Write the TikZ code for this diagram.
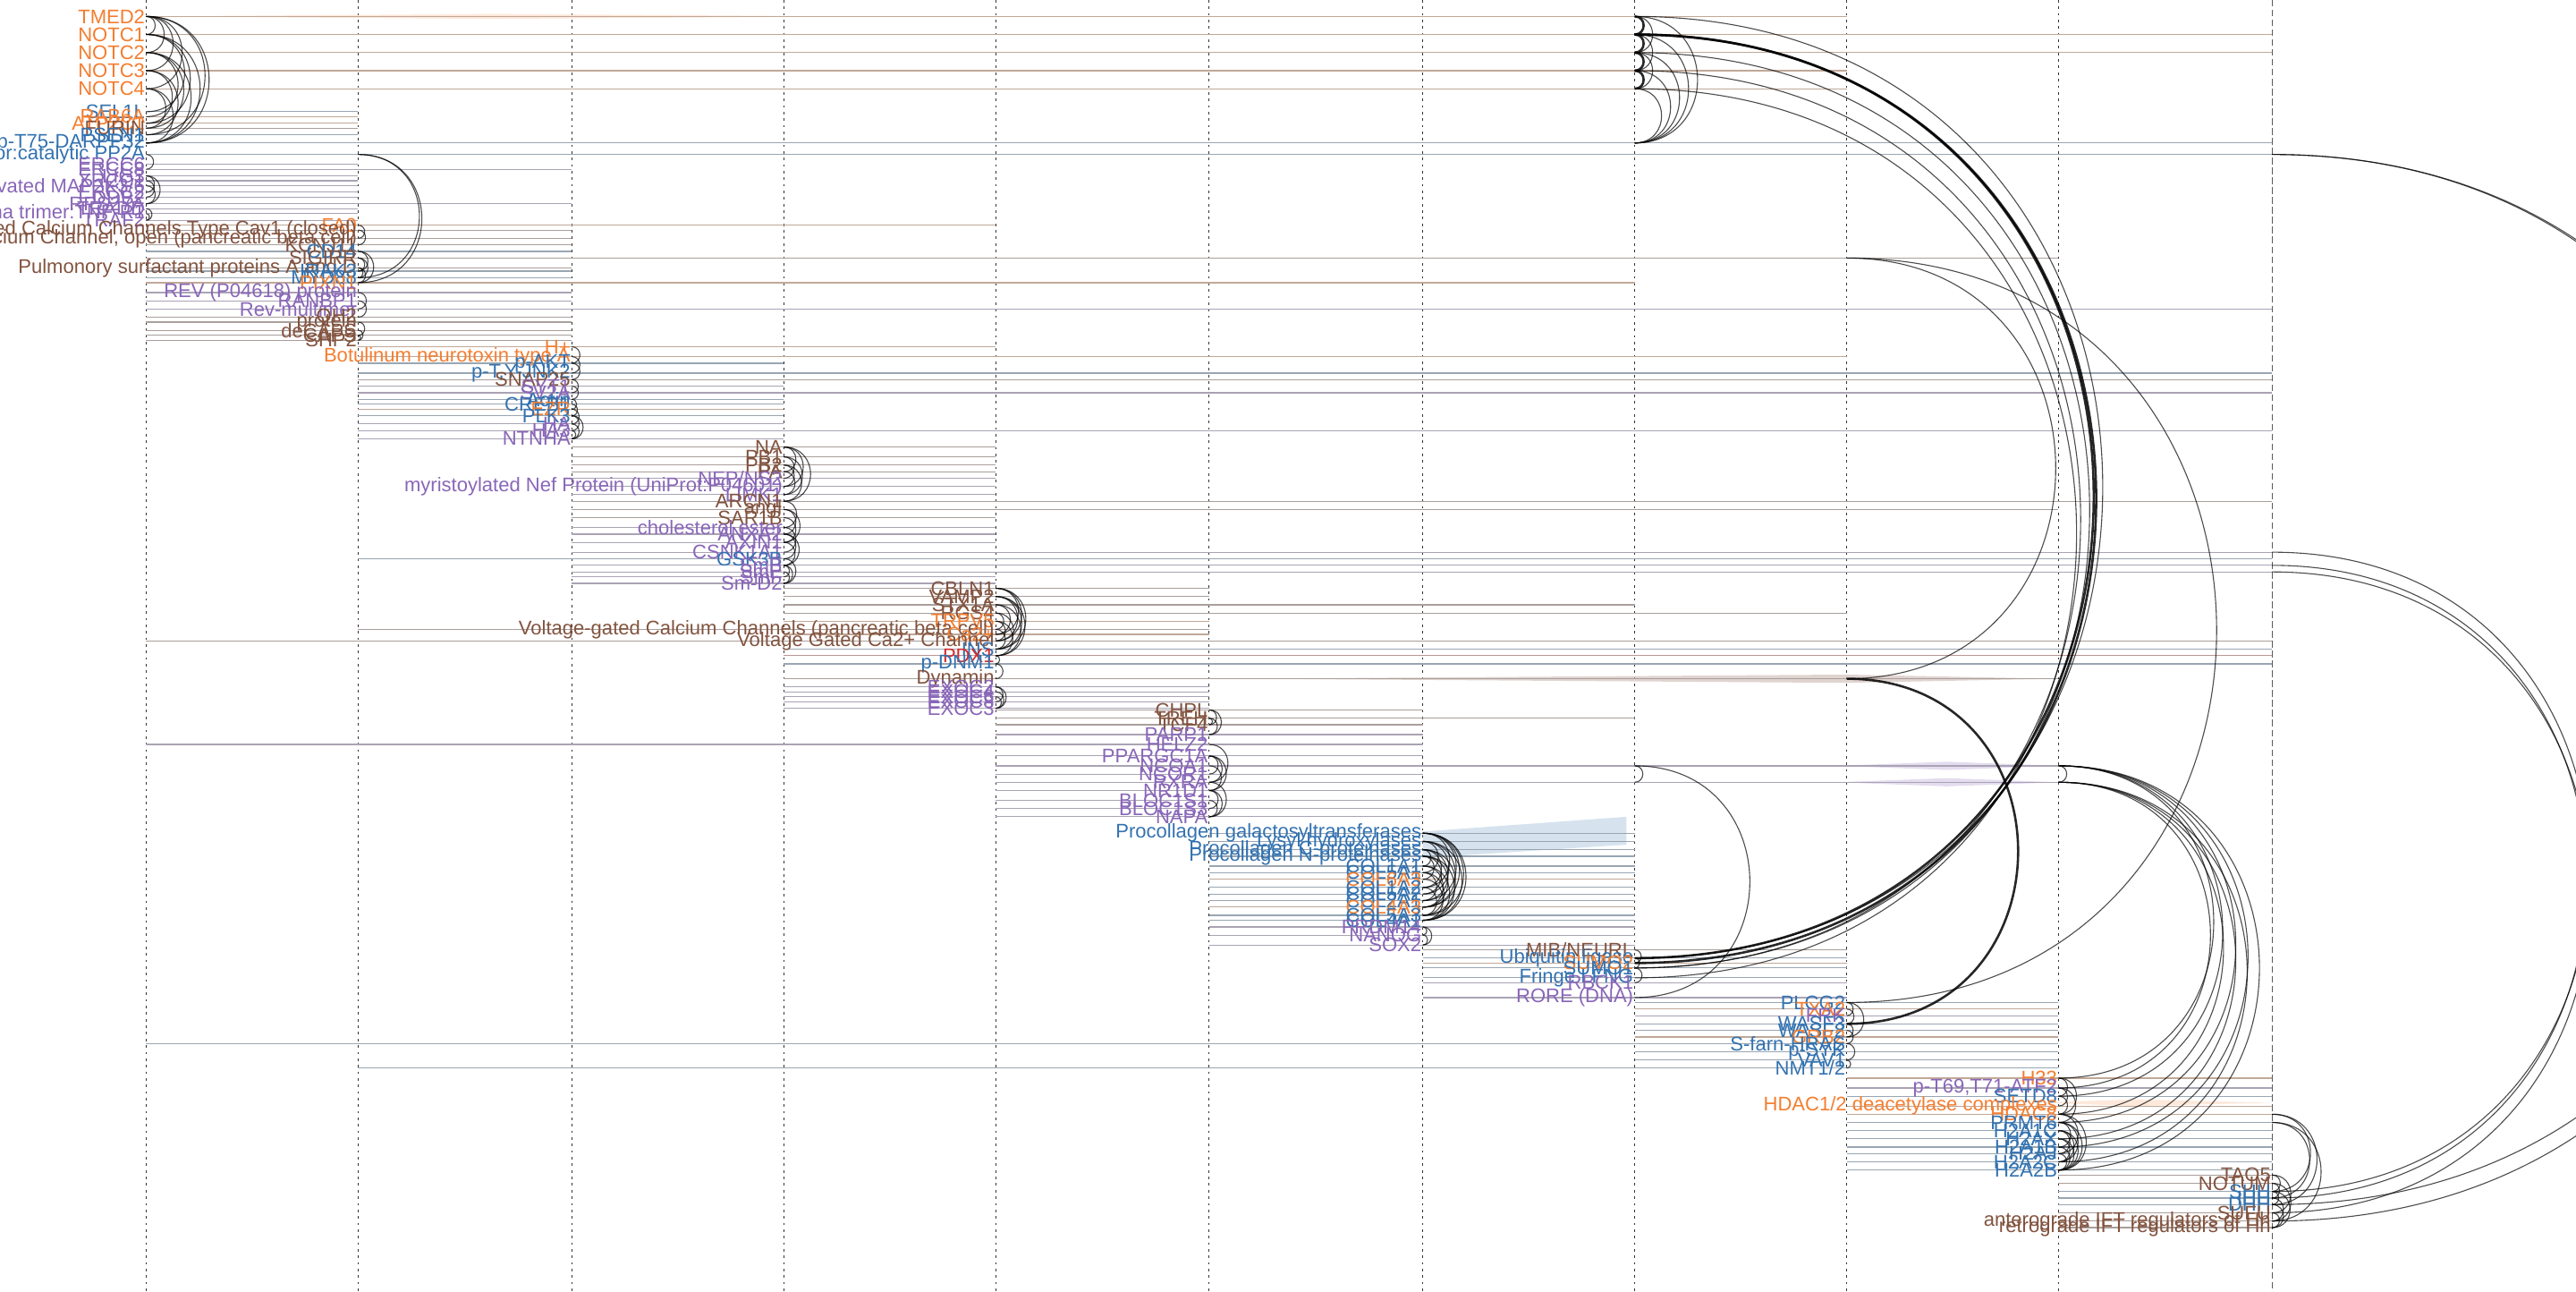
\documentclass[tikz,border=0pt]{standalone}
\usepackage{fontspec}
\setmainfont{Liberation Sans}
\definecolor{gor}{HTML}{F47D2F}
\definecolor{gbl}{HTML}{3372B0}
\definecolor{gpu}{HTML}{8966B8}
\definecolor{gbr}{HTML}{82533F}
\definecolor{grd}{HTML}{D42A2A}
\pgfdeclarelayer{background}
\pgfsetlayers{background,main}
\tikzset{
	glabel/.style={anchor=east,inner sep=0.6pt,font=\fontsize{12}{12}\selectfont},
	gline/.style={line width=0.65pt},
	gcol/.style={draw=black!80,line width=0.55pt,dash pattern=on 1.5pt off 2.5pt},
	gcollast/.style={draw=black!65,line width=0.6pt,dash pattern=on 4pt off 2pt},
	garc/.style={draw=black,draw opacity=0.7,line width=0.6pt},
	garcbold/.style={line width=1.4pt,draw opacity=0.85},
	halfround/.style={out=0,in=0,looseness=1.7}
}
\newcommand{\genenode}[7]{%
	\begin{pgfonlayer}{background}
		\draw[gline,draw=#4!30!gray!68] (#6,#3) -- (#7,#3);
	\end{pgfonlayer}
	\node[glabel,text=#4] (#1) at (#2,#3) {#5};}
\newcommand{\genearc}[4][]{\draw[garc,#1] (#2 -| #4) to[halfround] (#3 -| #4);}

\begin{document}
\begin{tikzpicture}[x=1pt,y=-1pt]
	\useasboundingbox (0,0) rectangle (1568,786);
	\clip (0,0) rectangle (1568,786);

	\coordinate (cl1) at (89,0);
	\coordinate (cl2) at (218,0);
	\coordinate (cl3) at (348,0);
	\coordinate (cl4) at (477,0);
	\coordinate (cl5) at (606,0);
	\coordinate (cl6) at (736,0);
	\coordinate (cl7) at (866,0);
	\coordinate (cl8) at (995,0);
	\coordinate (cl9) at (1124,0);
	\coordinate (cl10) at (1253,0);
	\coordinate (cl11) at (1383,0);

	\begin{pgfonlayer}{background}
		\foreach \k in {1,...,10}
			\draw[gcol] (cl\k) -- ++(0,786);
		\draw[gcollast] (cl11) -- ++(0,786);
		\fill[gbr!45,opacity=0.55] (760,413) -- (1124,410.5) -- (1250,413) -- (1124,415.5) -- cycle;
		\fill[gpu!45,opacity=0.5] (1118,466) -- (1185,463.5) -- (1253,466) -- (1185,468.5) -- cycle;
		\fill[gpu!45,opacity=0.5] (1118,476) -- (1185,473.5) -- (1253,476) -- (1185,478.5) -- cycle;
		\fill[gbl!40,opacity=0.5] (866,506) -- (990,497) -- (990,514) -- (866,522) -- cycle;
		\fill[gor!35,opacity=0.5] (89,10) -- (300,8.5) -- (520,10) -- (300,11.5) -- cycle;
		\fill[gor!35,opacity=0.5] (1240,671) -- (1300,669) -- (1383,671) -- (1300,673) -- cycle;
	\end{pgfonlayer}

	\genenode{a1}{89}{10}{gor}{TMED2}{89}{1124}
	\genenode{a2}{89}{21}{gor}{NOTC1}{89}{1383}
	\genenode{a3}{89}{32}{gor}{NOTC2}{89}{1383}
	\genenode{a4}{89}{43}{gor}{NOTC3}{89}{1124}
	\genenode{a5}{89}{54}{gor}{NOTC4}{89}{1124}
	\genenode{a6}{89}{68}{gbl}{SEL1L}{89}{218}
	\genenode{a7}{89}{71}{gor}{RAB6A}{89}{218}
	\genenode{a8}{89}{75}{gor}{ATP2C1}{89}{218}
	\genenode{a9}{89}{78}{gbr}{FURIN}{89}{218}
	\genenode{a10}{89}{82}{gbl}{PSEN1}{89}{218}
	\genenode{a11}{89}{87}{gbl}{p-T75-DARPP32}{89}{1383}
	\genenode{a12}{89}{94}{gbl}{PP2A-PR65 regulator:catalytic PP2A}{89}{1383}
	\genenode{a13}{89}{100}{gpu}{ERCC6}{89}{218}
	\genenode{a14}{89}{103}{gpu}{ERCC8}{89}{348}
	\genenode{a15}{89}{107}{gpu}{LIG3}{89}{218}
	\genenode{a16}{89}{110}{gpu}{XRCC1}{89}{218}
	\genenode{a17}{89}{113}{gpu}{activated MAP2K3/6}{89}{218}
	\genenode{a18}{89}{117}{gpu}{ERCC2}{89}{218}
	\genenode{a19}{89}{120}{gpu}{DDB2}{89}{218}
	\genenode{a20}{89}{124}{gpu}{RPS27A}{89}{348}
	\genenode{a21}{89}{127}{gpu}{TRADD}{89}{218}
	\genenode{a22}{89}{130}{gpu}{TNF-alpha trimer:TNF-R1}{89}{218}
	\genenode{a23}{89}{134}{gpu}{TRAF2}{89}{218}

	\genenode{b1}{218}{137}{gor}{FA0}{89}{606}
	\genenode{b2}{218}{140}{gbr}{Voltage-gated Calcium Channels Type Cav1 (closed)}{89}{348}
	\genenode{b3}{218}{145}{gbr}{Calcium Channel, open (pancreatic beta cell)}{89}{348}
	\genenode{b4}{218}{149}{gbr}{KCNJ11}{89}{348}
	\genenode{b5}{218}{153}{gbl}{CD14}{89}{348}
	\genenode{b6}{218}{157}{gbr}{SIGIRR}{89}{1253}
	\genenode{b7}{218}{163}{gbr}{Pulmonory surfactant proteins A and D}{89}{348}
	\genenode{b8}{218}{165}{gbl}{IRAK3}{89}{348}
	\genenode{b9}{218}{169}{gbl}{MYD88}{89}{348}
	\genenode{b10}{218}{172}{gor}{PIXN1}{89}{995}
	\genenode{b11}{218}{178}{gpu}{REV (P04618) protein}{89}{348}
	\genenode{b12}{218}{183}{gpu}{RANBP1}{89}{348}
	\genenode{b13}{218}{188}{gpu}{Rev-multimer}{89}{1383}
	\genenode{b14}{218}{193}{gbr}{QH2}{89}{348}
	\genenode{b15}{218}{196}{gbr}{protein}{89}{348}
	\genenode{b16}{218}{201}{gbr}{deCAPS}{89}{348}
	\genenode{b17}{218}{204}{gbr}{CAPS}{89}{348}
	\genenode{b18}{218}{207}{gbr}{SHP2}{89}{348}

	\genenode{c1}{348}{211}{gor}{H+}{218}{606}
	\genenode{c2}{348}{217}{gor}{Botulinum neurotoxin type A}{218}{1124}
	\genenode{c3}{348}{221}{gbl}{p-AKT}{218}{477}
	\genenode{c4}{348}{227}{gbl}{p-T,Y-JNK2}{218}{1383}
	\genenode{c5}{348}{231}{gbr}{SNAP25}{218}{1383}
	\genenode{c6}{348}{235}{gpu}{SYT1}{218}{477}
	\genenode{c7}{348}{239}{gpu}{SV2A}{218}{1383}
	\genenode{c8}{348}{243}{gbl}{Actin}{218}{477}
	\genenode{c9}{348}{246}{gbl}{CREB1}{218}{477}
	\genenode{c10}{348}{249}{gor}{EZR}{218}{477}
	\genenode{c11}{348}{253}{gbl}{PLK3}{218}{477}
	\genenode{c12}{348}{258}{gpu}{HA}{218}{477}
	\genenode{c13}{348}{262}{gpu}{HA3}{218}{1383}
	\genenode{c14}{348}{267}{gpu}{NTNHA}{218}{477}

	\genenode{d1}{477}{272}{gbr}{NA}{348}{606}
	\genenode{d2}{477}{278}{gbr}{PB1}{348}{606}
	\genenode{d3}{477}{283}{gbr}{PB2}{348}{606}
	\genenode{d4}{477}{287}{gbr}{PA}{348}{606}
	\genenode{d5}{477}{291}{gpu}{NEP/NS2}{348}{606}
	\genenode{d6}{477}{296}{gpu}{myristoylated Nef Protein (UniProt:P04601)}{348}{606}
	\genenode{d7}{477}{301}{gpu}{LIMK1}{348}{606}
	\genenode{d8}{477}{305}{gbr}{ARCN1}{348}{1383}
	\genenode{d9}{477}{310}{gbr}{angI}{348}{1253}
	\genenode{d10}{477}{315}{gbr}{SAR1B}{348}{606}
	\genenode{d11}{477}{321}{gpu}{cholesterol ester}{348}{606}
	\genenode{d12}{477}{325}{gpu}{ANXA2}{348}{606}
	\genenode{d13}{477}{330}{gpu}{AXIN1}{348}{606}
	\genenode{d14}{477}{336}{gpu}{CSNK1A1}{348}{1383}
	\genenode{d15}{477}{340}{gbl}{GSK3B}{218}{1383}
	\genenode{d16}{477}{344}{gpu}{SmB}{348}{1383}
	\genenode{d17}{477}{348}{gpu}{SmE}{348}{1383}
	\genenode{d18}{477}{351}{gpu}{SmF}{348}{606}
	\genenode{d19}{477}{355}{gpu}{Sm-D2}{348}{606}

	\genenode{e1}{606}{358}{gbr}{CBLN1}{477}{736}
	\genenode{e2}{606}{363}{gbr}{VAMP2}{477}{736}
	\genenode{e3}{606}{368}{gbr}{STX1A}{477}{995}
	\genenode{e4}{606}{373}{gbr}{RGS4}{477}{1124}
	\genenode{e5}{606}{378}{gor}{TRPV5}{477}{736}
	\genenode{e6}{606}{383}{gbr}{Voltage-gated Calcium Channels (pancreatic beta cell)}{218}{736}
	\genenode{e7}{606}{386}{gor}{Ca2+}{477}{736}
	\genenode{e8}{606}{390}{gbr}{Voltage Gated Ca2+ Channel}{89}{1383}
	\genenode{e9}{606}{395}{gbl}{INS}{477}{1383}
	\genenode{e10}{606}{399}{grd}{PDX1}{477}{1383}
	\genenode{e11}{606}{404}{gbl}{p-DNM1}{477}{1383}
	\genenode{e12}{606}{413}{gbr}{Dynamin}{477}{1253}
	\genenode{e13}{606}{418}{gpu}{EXOC2}{477}{736}
	\genenode{e14}{606}{421}{gpu}{EXOC4}{477}{736}
	\genenode{e15}{606}{424}{gpu}{EXOC6}{477}{736}
	\genenode{e16}{606}{427}{gpu}{EXOC8}{477}{736}
	\genenode{e17}{606}{431}{gpu}{EXOC3}{477}{736}

	\genenode{f1}{736}{432}{gbr}{CHPL}{606}{866}
	\genenode{f2}{736}{437}{gbr}{TREH}{606}{995}
	\genenode{f3}{736}{441}{gbr}{TCF4}{606}{866}
	\genenode{f4}{736}{447}{gpu}{PARP1}{606}{866}
	\genenode{f5}{736}{453}{gpu}{HELZ2}{89}{866}
	\genenode{f6}{736}{460}{gpu}{PPARGC1A}{606}{866}
	\genenode{f7}{736}{466}{gpu}{NCOA1}{606}{1253}
	\genenode{f8}{736}{471}{gpu}{NCOR1}{606}{866}
	\genenode{f9}{736}{476}{gpu}{RXRA}{606}{1253}
	\genenode{f10}{736}{481}{gpu}{NR1D1}{606}{866}
	\genenode{f11}{736}{487}{gpu}{BLOC1S1}{606}{866}
	\genenode{f12}{736}{492}{gpu}{BLOC1S3}{606}{866}
	\genenode{f13}{736}{497}{gpu}{NAPA}{606}{866}

	\genenode{g1}{866}{507}{gbl}{Procollagen galactosyltransferases}{736}{995}
	\genenode{g2}{866}{512}{gbl}{Lysyl hydroxylases}{736}{995}
	\genenode{g3}{866}{517}{gbl}{Procollagen C-proteinases}{736}{995}
	\genenode{g4}{866}{521}{gbl}{Procollagen N-proteinases}{736}{995}
	\genenode{g5}{866}{527}{gbl}{COL1A1}{736}{995}
	\genenode{g6}{866}{531}{gbl}{COL5A1}{736}{995}
	\genenode{g7}{866}{535}{gor}{COL6A3}{736}{995}
	\genenode{g8}{866}{540}{gbl}{COL1A2}{736}{995}
	\genenode{g9}{866}{544}{gbl}{COL5A2}{736}{995}
	\genenode{g10}{866}{548}{gbl}{COL2A1}{736}{995}
	\genenode{g11}{866}{552}{gor}{COL4A3}{736}{995}
	\genenode{g12}{866}{557}{gbl}{COL5A3}{736}{995}
	\genenode{g13}{866}{560}{gbl}{COL4A1}{736}{995}
	\genenode{g14}{866}{564}{gpu}{PRDM14}{736}{995}
	\genenode{g15}{866}{569}{gpu}{NANOG}{736}{995}
	\genenode{g16}{866}{575}{gpu}{SOX2}{736}{995}

	\genenode{h1}{995}{578}{gbr}{MIB/NEURL}{866}{1124}
	\genenode{h2}{995}{583}{gbl}{Ubiquitin ligase}{866}{1124}
	\genenode{h3}{995}{586}{gor}{SUMO2}{866}{1124}
	\genenode{h4}{995}{589}{gbl}{SUMO1}{866}{1124}
	\genenode{h5}{995}{595}{gbl}{Fringe LFNG}{866}{1124}
	\genenode{h6}{995}{598}{gpu}{RBCK1}{866}{1124}
	\genenode{h7}{995}{607}{gpu}{RORE (DNA)}{866}{1124}

	\genenode{i1}{1124}{610}{gbl}{PLCG2}{995}{1253}
	\genenode{i2}{1124}{614}{gor}{TXA2}{995}{1253}
	\genenode{i3}{1124}{618}{gpu}{FRK}{995}{1253}
	\genenode{i4}{1124}{623}{gbl}{WASF3}{995}{1253}
	\genenode{i5}{1124}{627}{gbl}{WASF2}{995}{1253}
	\genenode{i6}{1124}{631}{gor}{GRB2}{995}{1253}
	\genenode{i7}{1124}{635}{gbl}{S-farn-HRAS}{89}{1253}
	\genenode{i8}{1124}{640}{gbl}{p-SYK}{995}{1253}
	\genenode{i9}{1124}{645}{gbl}{VAV1}{995}{1253}
	\genenode{i10}{1124}{650}{gbl}{NMT1/2}{218}{1253}

	\genenode{j1}{1253}{656}{gor}{H33}{1124}{1383}
	\genenode{j2}{1253}{662}{gpu}{p-T69,T71-ATF2}{1124}{1383}
	\genenode{j3}{1253}{667}{gbl}{SETD8}{1124}{1383}
	\genenode{j4}{1253}{673}{gor}{HDAC1/2 deacetylase complexes}{1124}{1383}
	\genenode{j5}{1253}{678}{gor}{HDAC8}{1124}{1383}
	\genenode{j6}{1253}{683}{gbl}{PRMT6}{1124}{1383}
	\genenode{j7}{1253}{688}{gbl}{H2A1C}{1124}{1383}
	\genenode{j8}{1253}{693}{gbl}{H2AX}{1124}{1383}
	\genenode{j9}{1253}{698}{gbl}{H2A1B}{1124}{1383}
	\genenode{j10}{1253}{702}{gbl}{H2AJ}{1124}{1383}
	\genenode{j11}{1253}{707}{gbl}{H2A2C}{1124}{1383}
	\genenode{j12}{1253}{712}{gbl}{H2A2B}{1124}{1383}

	\genenode{k1}{1383}{715}{gbr}{TAO5}{1253}{1383}
	\genenode{k2}{1383}{720}{gbr}{NOTUM}{1253}{1383}
	\genenode{k3}{1383}{725}{gbl}{SHH}{1253}{1383}
	\genenode{k4}{1383}{729}{gbl}{IHH}{1253}{1383}
	\genenode{k5}{1383}{733}{gbl}{DHH}{1253}{1383}
	\genenode{k6}{1383}{738}{gbr}{SUFU}{1253}{1383}
	\genenode{k7}{1383}{743}{gbr}{anterograde IFT regulators of Hh}{1253}{1383}
	\genenode{k8}{1383}{747}{gbr}{retrograde IFT regulators of Hh}{1253}{1383}

	\genearc{a1}{a2}{cl1}
	\genearc{a1}{a3}{cl1}
	\genearc{a1}{a4}{cl1}
	\genearc{a1}{a5}{cl1}
	\genearc{a2}{a6}{cl1}
	\genearc{a2}{a8}{cl1}
	\genearc{a3}{a7}{cl1}
	\genearc{a3}{a9}{cl1}
	\genearc{a4}{a8}{cl1}
	\genearc{a4}{a10}{cl1}
	\genearc{a5}{a9}{cl1}
	\genearc{a5}{a11}{cl1}
	\genearc{a1}{a10}{cl1}
	\genearc{a1}{a11}{cl1}
	\genearc{a2}{a11}{cl1}
	\genearc{a3}{a11}{cl1}
	\genearc{a12}{a14}{cl1}
	\genearc{a15}{a18}{cl1}
	\genearc{a15}{a20}{cl1}
	\genearc{a16}{a19}{cl1}
	\genearc{a17}{a20}{cl1}
	\genearc{a21}{a23}{cl1}
	\genearc{a22}{a23}{cl1}

	\genearc{a12}{b9}{cl2}
	\genearc{a12}{b10}{cl2}
	\genearc{b1}{b3}{cl2}
	\genearc{b2}{b4}{cl2}
	\genearc{b5}{b8}{cl2}
	\genearc{b6}{b8}{cl2}
	\genearc{b6}{b9}{cl2}
	\genearc{b7}{b9}{cl2}
	\genearc{b5}{b10}{cl2}
	\genearc{b7}{b10}{cl2}
	\genearc{b11}{b13}{cl2}
	\genearc{b12}{b14}{cl2}
	\genearc{b15}{b17}{cl2}
	\genearc{b16}{b18}{cl2}
	\genearc{b17}{b18}{cl2}

	\genearc{c1}{c3}{cl3}
	\genearc{c2}{c4}{cl3}
	\genearc{c3}{c5}{cl3}
	\genearc{c5}{c7}{cl3}
	\genearc{c6}{c8}{cl3}
	\genearc{c8}{c10}{cl3}
	\genearc{c9}{c11}{cl3}
	\genearc{c10}{c12}{cl3}
	\genearc{c11}{c13}{cl3}
	\genearc{c12}{c14}{cl3}
	\genearc{c13}{c14}{cl3}
	\genearc{c11}{c14}{cl3}

	\genearc{d1}{d4}{cl4}
	\genearc{d2}{d5}{cl4}
	\genearc{d1}{d6}{cl4}
	\genearc{d3}{d6}{cl4}
	\genearc{d2}{d7}{cl4}
	\genearc{d4}{d7}{cl4}
	\genearc{d1}{d8}{cl4}
	\genearc{d3}{d8}{cl4}
	\genearc{d8}{d11}{cl4}
	\genearc{d9}{d12}{cl4}
	\genearc{d10}{d13}{cl4}
	\genearc{d9}{d13}{cl4}
	\genearc{d11}{d14}{cl4}
	\genearc{d12}{d15}{cl4}
	\genearc{d13}{d16}{cl4}
	\genearc{d12}{d16}{cl4}
	\genearc{d16}{d19}{cl4}
	\genearc{d17}{d19}{cl4}
	\genearc{d16}{d18}{cl4}
	\genearc{d15}{d19}{cl4}

	\genearc{e1}{e9}{cl5}
	\genearc{e1}{e8}{cl5}
	\genearc{e2}{e9}{cl5}
	\genearc{e2}{e8}{cl5}
	\genearc{e3}{e7}{cl5}
	\genearc{e3}{e10}{cl5}
	\genearc{e4}{e9}{cl5}
	\genearc{e4}{e6}{cl5}
	\genearc{e5}{e10}{cl5}
	\genearc{e1}{e7}{cl5}
	\genearc{e2}{e10}{cl5}
	\genearc{e5}{e8}{cl5}
	\genearc{e6}{e9}{cl5}
	\genearc{e10}{e11}{cl5}
	\genearc{e11}{e12}{cl5}
	\genearc{e13}{e16}{cl5}
	\genearc{e14}{e17}{cl5}
	\genearc{e13}{e17}{cl5}
	\genearc{e15}{e17}{cl5}

	\genearc{f1}{f3}{cl6}
	\genearc{f1}{f4}{cl6}
	\genearc{f2}{f4}{cl6}
	\genearc{f2}{f3}{cl6}
	\genearc{f6}{f9}{cl6}
	\genearc{f6}{f10}{cl6}
	\genearc{f5}{f9}{cl6}
	\genearc{f7}{f10}{cl6}
	\genearc{f6}{f8}{cl6}
	\genearc{f10}{f13}{cl6}
	\genearc{f11}{f13}{cl6}
	\genearc{f10}{f12}{cl6}
	\genearc{f9}{f13}{cl6}

	\genearc{g1}{g13}{cl7}
	\genearc{g1}{g12}{cl7}
	\genearc{g1}{g11}{cl7}
	\genearc{g1}{g10}{cl7}
	\genearc{g2}{g13}{cl7}
	\genearc{g2}{g11}{cl7}
	\genearc{g2}{g9}{cl7}
	\genearc{g3}{g12}{cl7}
	\genearc{g3}{g10}{cl7}
	\genearc{g3}{g8}{cl7}
	\genearc{g4}{g13}{cl7}
	\genearc{g4}{g11}{cl7}
	\genearc{g4}{g9}{cl7}
	\genearc{g4}{g7}{cl7}
	\genearc{g5}{g13}{cl7}
	\genearc{g5}{g11}{cl7}
	\genearc{g6}{g12}{cl7}
	\genearc{g6}{g10}{cl7}
	\genearc{g7}{g13}{cl7}
	\genearc{g8}{g12}{cl7}
	\genearc{g1}{g8}{cl7}
	\genearc{g2}{g6}{cl7}
	\genearc{g3}{g5}{cl7}
	\genearc{g14}{g15}{cl7}
	\genearc{g15}{g16}{cl7}
	\genearc{g14}{g16}{cl7}

	\genearc[garcbold]{a1}{a2}{cl8}
	\genearc[garcbold]{a2}{a3}{cl8}
	\genearc[garcbold]{a3}{a4}{cl8}
	\genearc[garcbold]{a4}{a5}{cl8}
	\genearc{a1}{a3}{cl8}
	\genearc{a2}{a4}{cl8}
	\genearc{a3}{a5}{cl8}
	\genearc{a1}{a11}{cl8}
	\genearc{a2}{a11}{cl8}
	\genearc{a3}{a11}{cl8}
	\genearc{a4}{a11}{cl8}
	\genearc{a5}{a11}{cl8}
	\genearc[garcbold]{a2}{h2}{cl8}
	\genearc[garcbold]{a2}{h3}{cl8}
	\genearc{a1}{h2}{cl8}
	\genearc{a3}{h4}{cl8}
	\genearc{a4}{h4}{cl8}
	\genearc{a5}{h5}{cl8}
	\genearc{f7}{f9}{cl8}
	\genearc{f7}{h7}{cl8}
	\genearc{h1}{h3}{cl8}
	\genearc{h2}{h4}{cl8}
	\genearc{h4}{h6}{cl8}

	\genearc{b6}{e12}{cl9}
	\genearc{b6}{i1}{cl9}
	\genearc[garcbold]{e12}{i4}{cl9}
	\genearc{i1}{i3}{cl9}
	\genearc{i2}{i4}{cl9}
	\genearc{i1}{i6}{cl9}
	\genearc{i4}{i6}{cl9}
	\genearc{i5}{i7}{cl9}
	\genearc{i7}{i9}{cl9}
	\genearc{i9}{i10}{cl9}

	\genearc{f7}{f9}{cl10}
	\genearc{f7}{j1}{cl10}
	\genearc{f7}{j3}{cl10}
	\genearc{f7}{j6}{cl10}
	\genearc{f7}{j9}{cl10}
	\genearc{f7}{j12}{cl10}
	\genearc{f9}{j2}{cl10}
	\genearc{f9}{j5}{cl10}
	\genearc{f9}{j8}{cl10}
	\genearc{f9}{j11}{cl10}
	\genearc{j1}{j3}{cl10}
	\genearc{j2}{j4}{cl10}
	\genearc{j1}{j5}{cl10}
	\genearc{j3}{j5}{cl10}
	\genearc{j2}{j6}{cl10}
	\genearc{j5}{j12}{cl10}
	\genearc{j6}{j12}{cl10}
	\genearc{j6}{j11}{cl10}
	\genearc{j7}{j12}{cl10}
	\genearc{j7}{j10}{cl10}
	\genearc{j8}{j11}{cl10}
	\genearc{j5}{j10}{cl10}
	\genearc{j6}{j9}{cl10}
	\genearc{j8}{j12}{cl10}
	\genearc{j9}{j12}{cl10}
	\genearc{j7}{j11}{cl10}
	\genearc{j10}{j12}{cl10}

	\genearc{j5}{k3}{cl11}
	\genearc{j5}{k5}{cl11}
	\genearc{j6}{k4}{cl11}
	\genearc{j6}{k7}{cl11}
	\genearc{k1}{k3}{cl11}
	\genearc{k2}{k4}{cl11}
	\genearc{k1}{k6}{cl11}
	\genearc{k3}{k5}{cl11}
	\genearc{k4}{k7}{cl11}
	\genearc{k5}{k8}{cl11}
	\genearc{k6}{k8}{cl11}
	\genearc{k3}{k8}{cl11}
	\genearc{k2}{k7}{cl11}
	\genearc{a12}{k5}{cl11}
	\genearc{a12}{k7}{cl11}
	\genearc{d14}{k3}{cl11}
	\genearc{d16}{k4}{cl11}
	\genearc{d17}{k6}{cl11}
\end{tikzpicture}
\end{document}
